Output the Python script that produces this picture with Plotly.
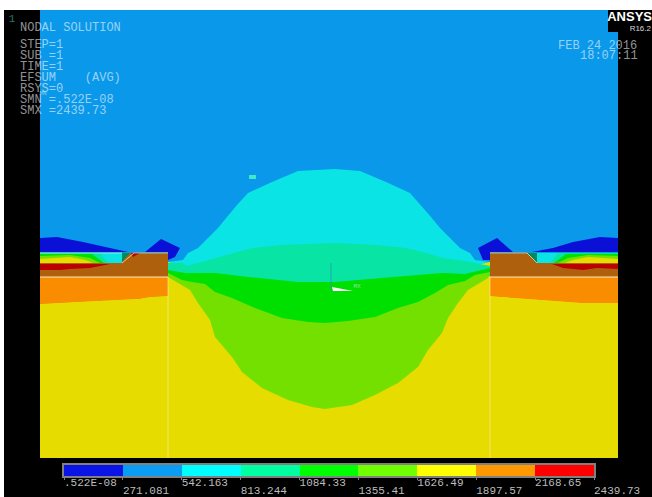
import plotly.graph_objects as go

NB = "\u00a0"
# contour scale
levels = [0.522e-8, 271.081, 542.163, 813.244, 1084.33, 1355.41, 1626.49, 1897.57, 2168.65, 2439.73]
level_labels = [".522E-08", "271.081", "542.163", "813.244", "1084.33", "1355.41", "1626.49", "1897.57", "2168.65", "2439.73"]
level_colors = ["#0a14e6", "#0a9cf2", "#00ffff", "#00ffa0", "#00ff00", "#70ff00", "#ffff00", "#ff9900", "#ff0000"]

# colours of the contour bands in the model
C_BLACK, C_DBLUE, C_BLUE, C_CYAN, C_SPRING = "#000000", "#0a10d6", "#0a98ea", "#0ae4e4", "#08e4a4"
C_GREEN, C_LIME, C_YELLOW, C_ORANGE, C_BROWN, C_RED = "#00e000", "#74e000", "#e6dc00", "#fa8c00", "#ae600c", "#bb0000"

# regions, in image pixels
page = [(4, 10), (652, 10), (652, 497), (4, 497)]
model_air = [(40, 10), (618, 10), (618, 458), (40, 458)]
logo_box = [(608, 10), (652, 10), (652, 32), (608, 32)]
soil = [(40, 262), (618, 262), (618, 458), (40, 458)]

dome = [(168, 262), (183, 260), (188, 253), (198, 248), (208, 238), (218, 228), (227, 217), (237, 205), (248, 193),
        (272, 182), (298, 171), (335, 169), (360, 171), (386, 182), (410, 193), (421, 205), (431, 217), (440, 228),
        (450, 238), (460, 248), (470, 253), (475, 260), (490, 262), (329, 300)]
spring = [(168, 263), (183, 263), (187, 266), (215, 258), (232, 253), (252, 248), (282, 245), (335, 243), (376, 245),
          (406, 248), (426, 253), (443, 258), (465, 261), (490, 266), (490, 276), (329, 300), (168, 276)]
lime = [(168, 273), (329, 300), (490, 272), (488, 278), (468, 290), (458, 303), (448, 318), (442, 333), (428, 350),
        (418, 367), (398, 383), (375, 395), (352, 405), (325, 409), (312, 407), (288, 400), (262, 388), (242, 372),
        (232, 357), (215, 337), (210, 320), (198, 303), (190, 290), (168, 277)]
green = [(168, 270), (185, 273), (215, 273), (248, 277), (298, 282), (335, 282), (358, 280), (392, 277), (425, 274),
         (442, 273), (465, 274), (482, 270), (490, 268), (490, 272), (475, 275), (465, 281), (448, 285), (435, 293),
         (418, 302), (398, 308), (375, 317), (348, 321), (325, 323), (308, 322), (282, 318), (255, 308), (232, 298),
         (215, 292), (205, 284), (192, 282), (182, 280), (168, 273)]

# left block
l_block = [(40, 253), (168, 253), (168, 296), (40, 304)]
l_orange = [(40, 277), (168, 277), (168, 296), (150, 297), (140, 299), (100, 301), (60, 303), (40, 304)]
l_yellow = [(40, 304), (60, 303), (100, 301), (140, 299), (150, 297), (168, 296), (168, 458), (40, 458)]
l_cavity = [(40, 253), (122, 253), (122, 263), (40, 263)]
l_spring = [(40, 253), (100, 253), (108, 263), (40, 263)]
l_green = [(40, 254), (92, 254), (104, 263), (40, 263)]
l_lime = [(40, 256), (70, 255), (90, 258), (100, 263), (40, 263)]
l_yel = [(40, 259), (70, 257), (85, 260), (93, 263), (40, 263)]
l_red = [(40, 264), (110, 264), (105, 265), (90, 268), (70, 269), (60, 270), (40, 270)]
l_teal = [(122, 253), (130, 253), (122, 262)]
l_tip = [(131, 253), (140, 253), (133, 257)]
l_dblue = [(40, 238), (57, 237), (83, 242), (110, 248), (128, 252), (40, 252)]
l_wedge = [(145, 252), (161, 239), (180, 248), (175, 257), (168, 260), (168, 252)]

# right block
r_block = [(490, 253), (618, 253), (618, 303), (490, 296)]
r_orange = [(490, 277), (618, 277), (618, 303), (580, 303), (540, 300), (510, 298), (490, 296)]
r_yellow = [(490, 296), (510, 298), (540, 300), (580, 303), (618, 303), (618, 458), (490, 458)]
r_cavity = [(537, 253), (618, 253), (618, 263), (537, 263)]
r_spring = [(558, 253), (618, 253), (618, 263), (550, 263)]
r_green = [(566, 254), (618, 254), (618, 263), (554, 263)]
r_lime = [(568, 258), (588, 255), (618, 256), (618, 263), (558, 263)]
r_yel = [(573, 260), (588, 257), (618, 259), (618, 263), (565, 263)]
r_red = [(552, 264), (618, 264), (618, 269), (597, 268), (583, 270), (563, 268)]
r_teal = [(527, 253), (537, 253), (537, 263)]
r_dblue = [(618, 238), (600, 237), (573, 242), (553, 248), (532, 252), (618, 252)]
r_wedge = [(478, 248), (497, 238), (513, 252), (490, 252), (490, 260), (483, 260)]

small_mark = [(249, 175), (256, 175), (256, 179), (249, 179)]
triad_arrow = [(332, 287), (353, 291), (333, 291)]
block_lines_x = [168, 40, 168, 168, None, 490, 618, 490, 490, None, 40, 122, None, 134, 168, None, 490, 527]
block_lines_y = [277, 277, 277, 458, None, 277, 277, 277, 458, None, 253, 253, None, 253, 253, None, 253, 253]
slope_x = [122, 134, None, 527, 537]
slope_y = [263, 253, None, 253, 263]
triad_x = [331, 331]
triad_y = [263, 290]

regions = [
    (page, C_BLACK), (model_air, C_BLUE), (logo_box, C_BLACK), (soil, C_YELLOW),
    (dome, C_CYAN), (spring, C_SPRING), (lime, C_LIME), (green, C_GREEN),
    (l_block, C_BROWN), (l_orange, C_ORANGE), (l_yellow, C_YELLOW), (l_cavity, C_CYAN), (l_spring, C_SPRING),
    (l_green, C_GREEN), (l_lime, C_LIME), (l_yel, C_YELLOW), (l_red, C_RED), (l_teal, "#008c5a"), (l_tip, C_RED),
    (l_dblue, C_DBLUE), (l_wedge, C_DBLUE),
    (r_block, C_BROWN), (r_orange, C_ORANGE), (r_yellow, C_YELLOW), (r_cavity, C_CYAN), (r_spring, C_SPRING),
    (r_green, C_GREEN), (r_lime, C_LIME), (r_yel, C_YELLOW), (r_red, C_RED), (r_teal, "#008c5a"),
    (r_dblue, C_DBLUE), (r_wedge, C_DBLUE),
    (small_mark, "#40e8c8"), (triad_arrow, "#ffffff"),
]

info_lines = ["NODAL" + NB + "SOLUTION", "STEP=1", "SUB" + NB + "=1", "TIME=1",
              "EFSUM" + NB * 4 + "(AVG)", "RSYS=0", "SMN" + NB + "=.522E-08", "SMX" + NB + "=2439.73"]
info_y = [28, 45, 56, 67, 78, 89, 100, 111]
stamp_text = ["FEB" + NB + "24" + NB + "2016", "18:07:11"]
stamp_x = [558, 580]
stamp_y = [46, 56]

fig = go.Figure()
for pts, col in regions:
    fig.add_trace(go.Scatter(x=[p[0] for p in pts], y=[p[1] for p in pts], mode="lines", fill="toself",
                             fillcolor=col, line=dict(width=0), hoverinfo="skip", showlegend=False))

fig.add_trace(go.Scatter(x=block_lines_x, y=block_lines_y, mode="lines", line=dict(color="rgba(255,240,200,0.55)", width=1),
                         hoverinfo="skip", showlegend=False))
fig.add_trace(go.Scatter(x=slope_x, y=slope_y, mode="lines", line=dict(color="rgba(255,240,200,0.7)", width=1),
                         hoverinfo="skip", showlegend=False))
fig.add_trace(go.Scatter(x=triad_x, y=triad_y, mode="lines", line=dict(color="rgba(40,150,170,0.7)", width=1),
                         hoverinfo="skip", showlegend=False))

MONO = "Liberation Mono, monospace"
fig.add_trace(go.Scatter(x=[20] * len(info_lines), y=info_y, text=info_lines, mode="text", textposition="middle right",
                         textfont=dict(family=MONO, size=12, color="rgba(255,255,255,0.58)"),
                         hoverinfo="skip", showlegend=False))
fig.add_trace(go.Scatter(x=stamp_x, y=stamp_y, text=stamp_text, mode="text", textposition="middle right",
                         textfont=dict(family=MONO, size=12, color="rgba(255,255,255,0.58)"),
                         hoverinfo="skip", showlegend=False))
fig.add_trace(go.Scatter(x=[12], y=[19], text=["1"], mode="text", textposition="middle center",
                         textfont=dict(family=MONO, size=11, color="#1f7a6a"), hoverinfo="skip", showlegend=False))
fig.add_trace(go.Scatter(x=[43, 357], y=[93, 286], text=["MN", "MX"], mode="text", textposition="middle center",
                         textfont=dict(family=MONO, size=6, color="rgba(200,230,230,0.7)"), hoverinfo="skip", showlegend=False))
fig.add_trace(go.Scatter(x=[652], y=[17.5], text=["<b>ANSYS</b>"], mode="text", textposition="middle left",
                         textfont=dict(family="Liberation Sans Narrow, Liberation Sans, sans-serif", size=13, color="#ffffff"),
                         hoverinfo="skip", showlegend=False, cliponaxis=False))
fig.add_trace(go.Scatter(x=[651], y=[29], text=["R16.2"], mode="text", textposition="middle left",
                         textfont=dict(family="Liberation Sans, sans-serif", size=8, color="#d8d8d8"),
                         hoverinfo="skip", showlegend=False, cliponaxis=False))

# colour scale on its own value axis
mids = [(levels[i] + levels[i + 1]) / 2 for i in range(len(level_colors))]
widths = [levels[i + 1] - levels[i] for i in range(len(level_colors))]
fig.add_trace(go.Bar(x=mids, y=[1] * len(mids), width=widths, marker=dict(color=level_colors, line=dict(width=0)),
                     xaxis="x2", yaxis="y2", hoverinfo="skip", showlegend=False))
# scale labels sit under the bar, on the page axis, at each level's place on the bar
bar_left, bar_right = 64, 594
label_x = [bar_left + v / levels[-1] * (bar_right - bar_left) for v in levels]
label_y = [483 if i % 2 == 0 else 491 for i in range(len(levels))]
fig.add_trace(go.Scatter(x=label_x, y=label_y, text=level_labels, mode="text", textposition="middle right",
                         textfont=dict(family=MONO, size=11, color="#bcbcbc"),
                         hoverinfo="skip", showlegend=False, cliponaxis=False))

fig.update_layout(
    width=652, height=497, autosize=False, margin=dict(l=0, r=0, t=0, b=0),
    paper_bgcolor="#ffffff", plot_bgcolor="rgba(0,0,0,0)", bargap=0, showlegend=False,
    xaxis=dict(range=[0, 652], domain=[0, 1], visible=False, fixedrange=True),
    yaxis=dict(range=[497, 0], domain=[0, 1], visible=False, fixedrange=True),
    xaxis2=dict(range=[levels[0], levels[-1]], domain=[bar_left / 652, bar_right / 652], anchor="y2", showgrid=False, zeroline=False,
                showline=True, mirror=True, linecolor="#808080", linewidth=2, ticks="outside", ticklen=2, tickcolor="#808080",
                tickvals=levels, showticklabels=False, fixedrange=True),
    yaxis2=dict(range=[0, 1], domain=[1 - 476 / 497, 1 - 465 / 497], anchor="x2", showgrid=False, zeroline=False,
                showline=True, mirror=True, linecolor="#808080", linewidth=2, showticklabels=False, fixedrange=True),
)
fig.write_html("out.html", config={"displayModeBar": False},
               post_script="document.body.style.margin='0';document.documentElement.style.overflow='hidden';")
